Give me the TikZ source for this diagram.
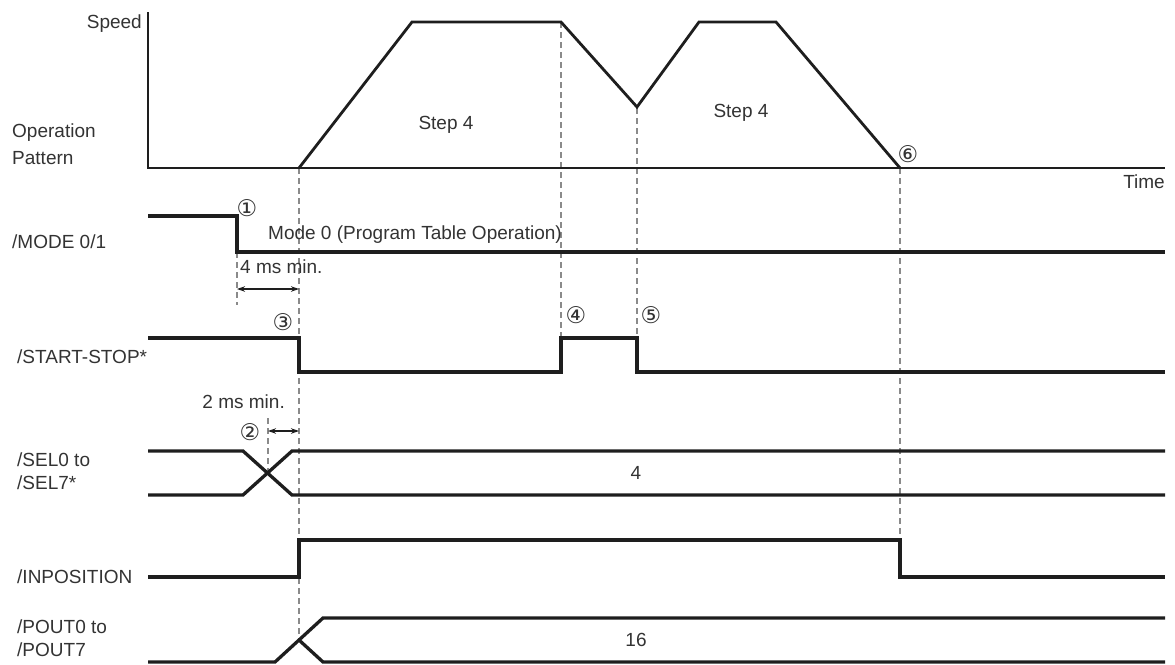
\documentclass[tikz,border=0pt]{standalone}
\usepackage{fontspec}
\setmainfont{Liberation Sans}
\newfontfamily\circfont{DejaVu Sans}
\usetikzlibrary{arrows.meta}
\definecolor{sigcol}{HTML}{1E1E1E}
\definecolor{txtcol}{HTML}{333333}
\definecolor{dashcol}{HTML}{8A8A8A}
\begin{document}
\begin{tikzpicture}[x=1pt,y=-1pt,
  font=\fontsize{19}{22}\selectfont,
  every node/.style={text=txtcol, inner sep=0pt},
  lbl/.style={anchor=west},
  circ/.style={font=\circfont\fontsize{23}{26}\selectfont},
  sig/.style={line width=3.3pt, draw=sigcol, line join=miter},
  curve/.style={line width=2.8pt, draw=sigcol, line join=miter},
  axisline/.style={line width=1.4pt, draw=sigcol},
  guide/.style={line width=1.3pt, draw=dashcol, dash pattern=on 6pt off 4pt},
  dim/.style={line width=1.1pt, draw=sigcol, {Stealth[length=8pt,width=5.5pt]}-{Stealth[length=8pt,width=5.5pt]}}]
\useasboundingbox (0,0) rectangle (1175,664);
% guides
\draw[guide] (299,168) -- (299,640);
\draw[guide] (237,252) -- (237,305);
\draw[guide] (268,418) -- (268,473);
\draw[guide] (561,22) -- (561,338);
\draw[guide] (637,108) -- (637,338);
\draw[guide] (900,168) -- (900,540);
% axes
\draw[axisline] (148,12) -- (148,168) -- (1165,168);
% speed curve
\draw[curve] (299,168) -- (412,22) -- (561,22) -- (637,107) -- (699,22) -- (776,22) -- (900,168);
% signals
\draw[sig] (148,216) -- (237,216) -- (237,252) -- (1165,252);
\draw[sig] (148,338) -- (299,338) -- (299,372) -- (561,372) -- (561,338) -- (637,338) -- (637,372) -- (1165,372);
\draw[sig] (148,451) -- (243,451) -- (292,495) -- (1165,495);
\draw[sig] (148,495) -- (243,495) -- (292,451) -- (1165,451);
\draw[sig] (148,577) -- (299,577) -- (299,540) -- (900,540) -- (900,577) -- (1165,577);
\draw[sig] (148,662) -- (275,662) -- (323,618) -- (1165,618);
\draw[sig] (299,640) -- (323,662) -- (1165,662);
% dimension arrows
\draw[dim] (237,289) -- (299,289);
\draw[dim] (268,431) -- (299,431);
% labels
\node[anchor=east] (speed) at (142,24) {Speed};
\node[lbl] (op1) at (12,133) {Operation};
\node[lbl] (op2) at (12,158) {Pattern};
\node[anchor=east] (time) at (1165,182) {Time};
\node[lbl] (mode) at (12,242) {/MODE 0/1};
\node[lbl] (start) at (17,357) {/START-STOP*};
\node[lbl] (sel1) at (17,460) {/SEL0 to};
\node[lbl] (sel2) at (17,483) {/SEL7*};
\node[lbl] (inpos) at (17,577) {/INPOSITION};
\node[lbl] (pout1) at (17,627) {/POUT0 to};
\node[lbl] (pout2) at (17,650) {/POUT7};
\node[lbl] (modetxt) at (268,235) {Mode 0 (Program Table Operation)};
\node[lbl] (fourms) at (240,267) {4 ms min.};
\node[anchor=east] (twoms) at (285,402) {2 ms min.};
\node (step1) at (446,125) {Step 4};
\node (step2) at (741,113) {Step 4};
\node (four) at (636,473) {4};
\node (sixteen) at (636,640) {16};
\node[circ] (c1) at (247,208) {①};
\node[circ] (c2) at (250,432) {②};
\node[circ] (c3) at (283,322) {③};
\node[circ] (c4) at (576,315) {④};
\node[circ] (c5) at (651,315) {⑤};
\node[circ] (c6) at (908,154) {⑥};
\end{tikzpicture}
\end{document}
